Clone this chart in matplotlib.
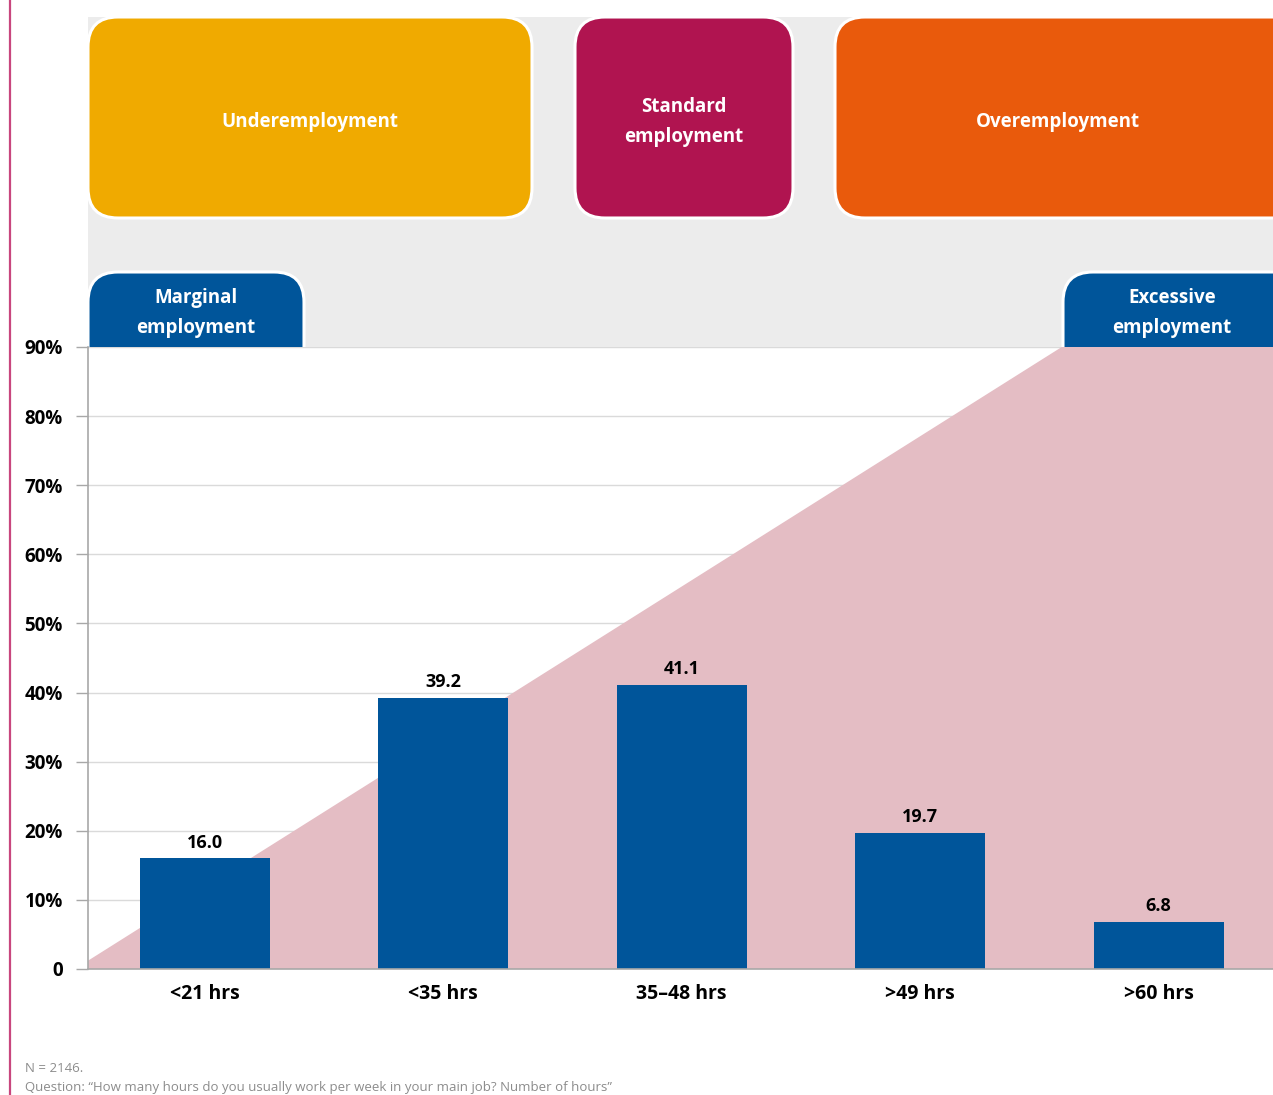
import matplotlib.pyplot as plt
from matplotlib.patches import FancyBboxPatch, Polygon

plt.rcParams['font.family'] = ['Open Sans', 'DejaVu Sans']

categories = ['<21 hrs', '<35 hrs', '35–48 hrs', '>49 hrs', '>60 hrs']
shares = [16.0, 39.2, 41.1, 19.7, 6.8]
ytick_vals = [0, 10, 20, 30, 40, 50, 60, 70, 80, 90]
ytick_labels = ['0', '10%', '20%', '30%', '40%', '50%', '60%', '70%', '80%', '90%']

BLUE = '#00559A'
PINK = '#E4BDC4'
GRID = '#DADADA'

W, H = 1273, 1095
fig = plt.figure(figsize=(W / 100, H / 100), dpi=100)

# pixel-space background layer for the category boxes
bg = fig.add_axes([0, 0, 1, 1], zorder=0)
bg.set_xlim(0, W)
bg.set_ylim(H, 0)
bg.axis('off')

bg.add_patch(plt.Rectangle((88, 17), W - 88, 330, color='#ECECEC', lw=0))
bg.plot([10, 10], [0, H], color='#C8467E', lw=1.6)


def box(x0, y0, x1, y1, color, text, cx, cy, r=30):
    p = FancyBboxPatch((x0, y0), x1 - x0, y1 - y0,
                       boxstyle=f'round,pad=0,rounding_size={r}',
                       facecolor=color, edgecolor='white', lw=2.2)
    bg.add_patch(p)
    bg.text(cx, cy, text, color='white', fontsize=13.5, fontweight='bold',
            ha='center', va='center', linespacing=1.62)


box(88, 17, 532, 218, '#F0AA00', 'Underemployment', 310, 122)
box(575, 17, 793, 218, '#B01450', 'Standard\nemployment', 684, 122)
box(835, 17, 1310, 218, '#E95A0C', 'Overemployment', 1058, 122)
box(88, 272, 304, 400, BLUE, 'Marginal\nemployment', 196, 313)
box(1063, 272, 1310, 400, BLUE, 'Excessive\nemployment', 1172, 313)

# main chart
ax = fig.add_axes([88 / W, 1 - 969 / H, 1 - 88 / W, (969 - 347) / H], zorder=1)
ax.set_facecolor('white')
x = list(range(len(categories)))
ax.set_xlim(-0.49, 4.48)
ax.set_ylim(0, 90)

# shaded area for the overemployment zone
ax.add_patch(Polygon([(-0.49, 1.2), (3.594, 90), (4.48, 90), (4.48, 0), (-0.49, 0)],
                     closed=True, facecolor=PINK, edgecolor='none', zorder=1))

for v in ytick_vals[1:]:
    ax.axhline(v, color=GRID, lw=1, zorder=0.5)

bars = ax.bar(x, shares, width=0.545, color=BLUE, zorder=3)
for xi, v in zip(x, shares):
    ax.text(xi, v + 1.0, f'{v:.1f}', ha='center', va='bottom',
            fontsize=13, fontweight='bold', color='black', zorder=4)

ax.set_yticks(ytick_vals)
ax.set_yticklabels(ytick_labels, fontsize=13.5, fontweight='bold')
ax.tick_params(axis='y', length=9, width=1, color='#A8A8A8', pad=9)
ax.set_xticks(x)
ax.set_xticklabels(categories, fontsize=14, fontweight='bold')
ax.tick_params(axis='x', length=0, pad=11)

for s in ['top', 'right']:
    ax.spines[s].set_visible(False)
for s in ['left', 'bottom']:
    ax.spines[s].set_color('#A8A8A8')
    ax.spines[s].set_linewidth(1.2)
    ax.spines[s].set_zorder(5)

fig.text(25 / W, 1 - 1069 / H, 'N = 2146.', fontsize=9.5, color='#8C8C8C', va='center')
fig.text(25 / W, 1 - 1088 / H,
         'Question: “How many hours do you usually work per week in your main job? Number of hours”',
         fontsize=9.5, color='#8C8C8C', va='center')

fig.savefig('out.png', dpi=100)
